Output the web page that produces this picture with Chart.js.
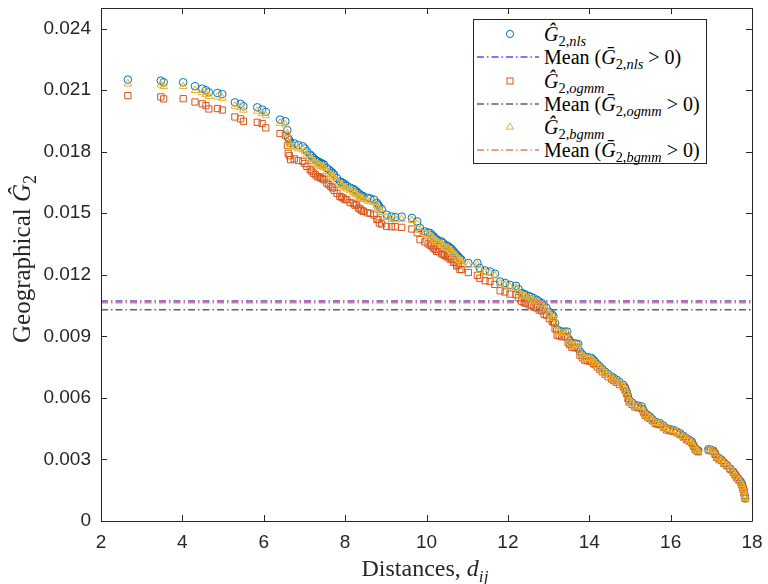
<!DOCTYPE html>
<html><head><meta charset="utf-8">
<script src="https://cdn.jsdelivr.net/npm/chart.js@4.4.1/dist/chart.umd.min.js"></script>
<style>
html,body{margin:0;padding:0;background:#fff;}
#wrap{position:relative;width:768px;height:584px;overflow:hidden;}
#c{position:absolute;left:0;top:0;}
.serif{font-family:"Liberation Serif","Times New Roman",serif;color:#262626;white-space:nowrap;}
sub{font-size:72%;vertical-align:baseline;position:relative;top:0.32em;}
#legend{position:absolute;left:473px;top:19px;width:234px;height:145px;border:1px solid #262626;background:#fff;box-sizing:border-box;}
.row{position:absolute;left:0;width:232px;height:24px;font-size:20px;line-height:24px;}
.row svg{position:absolute;left:0;top:0;}
.row span.t{position:absolute;left:70px;top:0;color:#000;}
#xt{position:absolute;left:0;width:850px;text-align:center;top:555px;font-size:24px;line-height:26px;}
#yt{position:absolute;left:-128px;top:246px;width:300px;text-align:center;font-size:25px;line-height:26px;transform:rotate(-90deg);transform-origin:150px 13px;}
</style></head>
<body>
<div id="wrap">
<canvas id="c" width="768" height="584"></canvas>
<div id="xt" class="serif">Distances, <i>d</i><sub><i>ij</i></sub></div>
<div id="yt" class="serif">Geographical <i>Ĝ</i><sub>2</sub></div>
<div id="legend" class="serif"></div>
</div>
<script>
// ---- data ----
const xTicks = [2,4,6,8,10,12,14,16,18];
const yTicks = [0,0.003,0.006,0.009,0.012,0.015,0.018,0.021,0.024];
const distances = [2.66,3.47,3.54,4.02,4.31,4.49,4.58,4.65,4.86,4.98,5.29,5.43,5.50,5.84,5.96,6.05,6.40,6.53,6.58,6.60,6.66,
6.96,7.06,7.14,7.22,7.32,7.40,7.48,7.55,7.65,7.73,7.87,7.95,8.04,8.20,8.28,8.37,8.45,8.71,8.78,8.84,
9.02,9.14,9.23,9.39,9.64,9.77,9.84,9.96,10.09,10.17,10.25,10.37,10.45,10.54,10.62,10.70,10.78,10.86,11.03,11.25,
11.31,11.44,11.56,11.68,11.81,11.93,12.05,12.20,12.34,12.44,12.58,12.71,12.83,12.95,13.12,13.16,13.21,13.32,13.46,13.48,
13.57,13.73,13.77,13.89,14.06,14.14,14.26,14.39,14.55,14.67,14.84,14.92,14.98,15.12,15.29,15.37,15.49,15.62,15.74,15.90,
16.07,16.23,16.39,16.52,16.60,16.68,16.93,17.05,17.13,17.25,17.38,17.54,17.62,17.72,17.77,17.80,17.83,
6.63,6.75,6.85,7.01,7.18,7.27,7.36,7.44,7.60,7.69,7.80,7.91,8.00,8.12,8.24,8.33,8.41,8.55,8.62,8.81,8.90,
10.04,10.13,10.21,10.30,10.41,10.50,10.58,10.66,10.74,10.82,12.26,12.40,12.52,12.64,12.77,12.89,13.02,13.09,13.26,13.40,
13.52,13.63,13.68,13.83,13.95,14.01,14.10,14.20,14.32,14.46,14.60,14.74,14.88,14.95,15.05,15.20,15.33,15.43,15.55,15.68,
15.82,15.98,16.15,16.31,16.46,16.56,16.64,16.98,17.09,17.19,17.31,17.46,17.58,17.67,17.75,17.79,17.82];
const g2Nls = [0.02151,0.02146,0.02138,0.02138,0.02119,0.02107,0.02099,0.02089,0.02086,0.02080,0.02040,0.02033,0.02021,0.02016,0.02005,0.01994,0.01956,0.01948,0.01905,0.01866,0.01842,
0.01826,0.01801,0.01785,0.01769,0.01753,0.01745,0.01737,0.01720,0.01704,0.01688,0.01655,0.01647,0.01634,0.01618,0.01606,0.01590,0.01582,0.01566,0.01550,0.01533,
0.01493,0.01484,0.01481,0.01483,0.01477,0.01460,0.01428,0.01411,0.01403,0.01387,0.01371,0.01362,0.01346,0.01338,0.01325,0.01306,0.01289,0.01273,0.01257,0.01257,
0.01233,0.01221,0.01216,0.01205,0.01167,0.01160,0.01151,0.01146,0.01111,0.01102,0.01091,0.01078,0.01062,0.01038,0.00997,0.00964,0.00932,0.00923,0.00923,0.00891,
0.00867,0.00862,0.00826,0.00801,0.00794,0.00777,0.00753,0.00728,0.00704,0.00688,0.00663,0.00631,0.00590,0.00566,0.00558,0.00525,0.00509,0.00484,0.00477,0.00452,
0.00444,0.00428,0.00403,0.00387,0.00355,0.00343,0.00350,0.00343,0.00314,0.00298,0.00273,0.00240,0.00216,0.00192,0.00167,0.00143,0.00111,
0.01855,0.01840,0.01832,0.01815,0.01778,0.01760,0.01750,0.01741,0.01712,0.01696,0.01670,0.01651,0.01640,0.01625,0.01612,0.01598,0.01586,0.01575,0.01572,0.01542,0.01520,
0.01406,0.01395,0.01379,0.01367,0.01354,0.01342,0.01331,0.01315,0.01298,0.01281,0.01130,0.01106,0.01096,0.01085,0.01070,0.01050,0.01018,0.01005,0.00928,0.00923,
0.00880,0.00865,0.00864,0.00812,0.00798,0.00796,0.00785,0.00764,0.00740,0.00716,0.00697,0.00678,0.00650,0.00610,0.00578,0.00562,0.00540,0.00517,0.00496,0.00480,
0.00465,0.00448,0.00436,0.00415,0.00395,0.00370,0.00348,0.00348,0.00330,0.00306,0.00285,0.00256,0.00228,0.00204,0.00180,0.00155,0.00125];
const g2Ogmm = [0.02073,0.02067,0.02057,0.02058,0.02042,0.02033,0.02024,0.02008,0.02010,0.02003,0.01969,0.01960,0.01948,0.01943,0.01937,0.01916,0.01888,0.01880,0.01830,0.01792,0.01761,
0.01753,0.01728,0.01712,0.01695,0.01678,0.01672,0.01663,0.01647,0.01630,0.01611,0.01582,0.01574,0.01566,0.01548,0.01541,0.01520,0.01509,0.01491,0.01470,0.01452,
0.01436,0.01434,0.01434,0.01431,0.01423,0.01405,0.01371,0.01360,0.01345,0.01330,0.01314,0.01302,0.01294,0.01288,0.01277,0.01261,0.01247,0.01225,0.01211,0.01197,
0.01183,0.01171,0.01167,0.01153,0.01122,0.01116,0.01106,0.01103,0.01071,0.01062,0.01049,0.01038,0.01024,0.01003,0.00967,0.00936,0.00906,0.00898,0.00900,0.00869,
0.00847,0.00844,0.00808,0.00784,0.00778,0.00762,0.00739,0.00715,0.00692,0.00676,0.00652,0.00620,0.00580,0.00556,0.00548,0.00516,0.00500,0.00476,0.00469,0.00444,
0.00437,0.00421,0.00396,0.00381,0.00349,0.00337,0.00345,0.00338,0.00309,0.00294,0.00269,0.00237,0.00213,0.00189,0.00165,0.00141,0.00109,
0.01780,0.01765,0.01757,0.01742,0.01705,0.01687,0.01677,0.01668,0.01639,0.01623,0.01597,0.01578,0.01567,0.01552,0.01539,0.01525,0.01513,0.01502,0.01499,0.01469,0.01447,
0.01351,0.01340,0.01324,0.01312,0.01299,0.01287,0.01276,0.01260,0.01243,0.01226,0.01088,0.01064,0.01054,0.01043,0.01028,0.01008,0.00986,0.00973,0.00903,0.00898,
0.00860,0.00845,0.00844,0.00795,0.00781,0.00779,0.00768,0.00751,0.00727,0.00703,0.00684,0.00665,0.00637,0.00597,0.00568,0.00552,0.00530,0.00507,0.00488,0.00472,
0.00457,0.00440,0.00430,0.00409,0.00389,0.00364,0.00342,0.00343,0.00325,0.00301,0.00280,0.00253,0.00225,0.00201,0.00177,0.00153,0.00123];
const g2Bgmm = [0.02131,0.02126,0.02118,0.02118,0.02099,0.02088,0.02080,0.02070,0.02067,0.02061,0.02022,0.02015,0.02003,0.01998,0.01987,0.01976,0.01939,0.01931,0.01888,0.01849,0.01825,
0.01810,0.01785,0.01769,0.01753,0.01737,0.01729,0.01721,0.01704,0.01689,0.01673,0.01640,0.01632,0.01619,0.01603,0.01591,0.01575,0.01567,0.01552,0.01536,0.01519,
0.01480,0.01471,0.01468,0.01471,0.01465,0.01448,0.01416,0.01399,0.01391,0.01375,0.01359,0.01351,0.01335,0.01327,0.01314,0.01295,0.01278,0.01263,0.01247,0.01247,
0.01223,0.01211,0.01206,0.01195,0.01157,0.01150,0.01141,0.01137,0.01102,0.01093,0.01082,0.01069,0.01054,0.01030,0.00989,0.00956,0.00925,0.00916,0.00916,0.00884,
0.00861,0.00856,0.00820,0.00795,0.00789,0.00772,0.00748,0.00723,0.00699,0.00683,0.00659,0.00627,0.00586,0.00562,0.00554,0.00521,0.00505,0.00481,0.00474,0.00449,
0.00441,0.00425,0.00400,0.00384,0.00352,0.00341,0.00348,0.00341,0.00312,0.00296,0.00271,0.00238,0.00215,0.00191,0.00166,0.00142,0.00110,
0.01838,0.01823,0.01815,0.01800,0.01763,0.01745,0.01735,0.01726,0.01697,0.01681,0.01655,0.01636,0.01625,0.01610,0.01597,0.01583,0.01571,0.01560,0.01557,0.01527,0.01505,
0.01395,0.01384,0.01368,0.01356,0.01343,0.01331,0.01320,0.01304,0.01287,0.01270,0.01121,0.01097,0.01087,0.01076,0.01061,0.01041,0.01010,0.00997,0.00921,0.00916,
0.00874,0.00859,0.00858,0.00807,0.00793,0.00791,0.00780,0.00759,0.00735,0.00711,0.00692,0.00673,0.00645,0.00605,0.00574,0.00558,0.00536,0.00513,0.00493,0.00477,
0.00462,0.00445,0.00433,0.00412,0.00392,0.00367,0.00345,0.00346,0.00328,0.00304,0.00283,0.00255,0.00227,0.00203,0.00179,0.00154,0.00124];
const meanNls = 0.010725;
const meanOgmm = 0.010290;
const meanBgmm = 0.010630;
const xRange = [2,18];

// ---- styles ----
const C_NLS = '#0072BD', C_OGMM = '#D95319', C_BGMM = '#EDB120';
const C_MNLS = '#4d4dff', C_MOGMM = '#5c5c8f', C_MBGMM = '#f07a66';
const DASH = [7,3,1.5,3];

const pts = ys => distances.map((x,i)=>({x:x,y:ys[i]}));
const hline = v => xRange.map(x=>({x:x,y:v}));

const boxPlugin = {
  id:'box',
  afterDraw(chart){
    const {ctx, chartArea:a, scales:{x,y}} = chart;
    ctx.save();
    ctx.strokeStyle = '#262626'; ctx.lineWidth = 1;
    ctx.beginPath();
    ctx.rect(Math.round(a.left)+0.5, Math.round(a.top)+0.5, Math.round(a.right-a.left), Math.round(a.bottom-a.top));
    const L = 6;
    xTicks.forEach(v=>{ const p = Math.round(x.getPixelForValue(v))+0.5;
      ctx.moveTo(p,a.bottom); ctx.lineTo(p,a.bottom-L);
      ctx.moveTo(p,a.top); ctx.lineTo(p,a.top+L); });
    yTicks.forEach(v=>{ const p = Math.round(y.getPixelForValue(v))+0.5;
      ctx.moveTo(a.left,p); ctx.lineTo(a.left+L,p);
      ctx.moveTo(a.right,p); ctx.lineTo(a.right-L,p); });
    ctx.stroke();
    ctx.restore();
  }
};

const tickFont = {family:'"Liberation Sans", Arial, sans-serif', size:19};

new Chart(document.getElementById('c'), {
  type:'scatter',
  data:{datasets:[
    {label:'G2 nls', data:pts(g2Nls), order:6, pointStyle:'circle', pointRadius:3.8, borderColor:C_NLS, backgroundColor:'rgba(0,0,0,0)', borderWidth:1},
    {label:'Mean nls', type:'line', data:hline(meanNls), order:5, showLine:true, pointRadius:0, borderColor:C_MNLS, borderWidth:1.5, borderDash:DASH, fill:false},
    {label:'G2 ogmm', data:pts(g2Ogmm), order:4, pointStyle:'rect', pointRadius:4.4, borderColor:C_OGMM, backgroundColor:'rgba(0,0,0,0)', borderWidth:1},
    {label:'Mean ogmm', type:'line', data:hline(meanOgmm), order:3, showLine:true, pointRadius:0, borderColor:C_MOGMM, borderWidth:1.5, borderDash:DASH, fill:false},
    {label:'G2 bgmm', data:pts(g2Bgmm), order:2, pointStyle:'triangle', pointRadius:4.4, borderColor:C_BGMM, backgroundColor:'rgba(0,0,0,0)', borderWidth:1},
    {label:'Mean bgmm', type:'line', data:hline(meanBgmm), order:1, showLine:true, pointRadius:0, borderColor:C_MBGMM, borderWidth:1.5, borderDash:DASH, fill:false}
  ]},
  options:{
    responsive:false, animation:false, events:[],
    layout:{padding:{left:0,right:16,top:8,bottom:0}},
    plugins:{legend:{display:false}, tooltip:{enabled:false}},
    scales:{
      x:{type:'linear', min:2, max:18,
        afterBuildTicks:s=>{s.ticks = xTicks.map(v=>({value:v}));},
        afterFit:s=>{s.height = 63; s.paddingLeft = 0; s.paddingRight = 0;},
        grid:{display:false, drawTicks:false}, border:{display:false},
        ticks:{padding:10, color:'#262626', font:tickFont, maxRotation:0, autoSkip:false}},
      y:{type:'linear', min:0, max:0.025,
        afterBuildTicks:s=>{s.ticks = yTicks.map(v=>({value:v}));},
        afterFit:s=>{s.width = 101; s.paddingTop = 0; s.paddingBottom = 0;},
        grid:{display:false, drawTicks:false}, border:{display:false},
        ticks:{padding:10, color:'#262626', font:tickFont, autoSkip:false,
          callback:v=> v===0 ? '0' : v.toFixed(3)}}
    }
  },
  plugins:[boxPlugin]
});

// ---- legend ----
const legendRows = [
  {kind:'circle', color:C_NLS, html:'<i>Ĝ</i><sub>2,<i>nls</i></sub>'},
  {kind:'line', color:C_MNLS, html:'Mean (<i>Ḡ</i><sub>2,<i>nls</i></sub> &gt; 0)'},
  {kind:'rect', color:C_OGMM, html:'<i>Ĝ</i><sub>2,<i>ogmm</i></sub>'},
  {kind:'line', color:C_MOGMM, html:'Mean (<i>Ḡ</i><sub>2,<i>ogmm</i></sub> &gt; 0)'},
  {kind:'tri', color:C_BGMM, html:'<i>Ĝ</i><sub>2,<i>bgmm</i></sub>'},
  {kind:'line', color:C_MBGMM, html:'Mean (<i>Ḡ</i><sub>2,<i>bgmm</i></sub> &gt; 0)'}
];
const centers = [15.3,38.3,62,85.3,108.3,131.3];
const lg = document.getElementById('legend');
legendRows.forEach((r,i)=>{
  const d = document.createElement('div');
  d.className = 'row';
  d.style.top = (centers[i]-12-1) + 'px';
  let sym = '';
  if (r.kind==='circle') sym = `<circle cx="36" cy="12" r="3.6" fill="none" stroke="${r.color}" stroke-width="1"/>`;
  if (r.kind==='rect') sym = `<rect x="33" y="9" width="6" height="6" fill="none" stroke="${r.color}" stroke-width="1"/>`;
  if (r.kind==='tri') sym = `<polygon points="36,8 39.6,14.1 32.4,14.1" fill="none" stroke="${r.color}" stroke-width="1"/>`;
  if (r.kind==='line') sym = `<line x1="3" y1="12" x2="65" y2="12" stroke="${r.color}" stroke-width="1.5" stroke-dasharray="7 3 1.5 3"/>`;
  d.innerHTML = `<svg width="70" height="24">${sym}</svg><span class="t">${r.html}</span>`;
  lg.appendChild(d);
});
</script>
</body></html>
